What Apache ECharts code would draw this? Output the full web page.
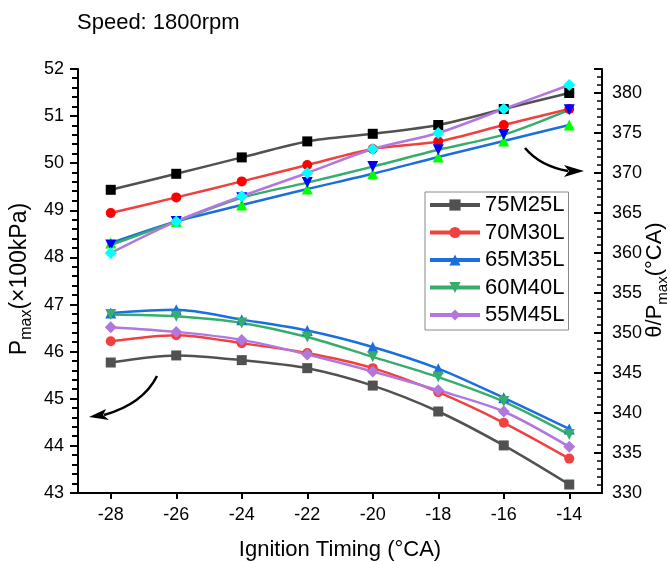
<!DOCTYPE html>
<html>
<head>
<meta charset="utf-8">
<script src="https://cdn.jsdelivr.net/npm/echarts@6/dist/echarts.min.js"></script>
<style>html,body{margin:0;padding:0;background:#fff}#c{width:670px;height:561px}</style>
</head>
<body>
<div id="c"></div>
<script>
// ---- data ----
const ignition = [-28, -26, -24, -22, -20, -18, -16, -14];
const xTicks = [-28, -26, -24, -22, -20, -18, -16, -14];
const names = ['75M25L', '70M30L', '65M35L', '60M40L', '55M45L'];

// Pmax (x100 kPa), left axis
const pmax75 = [45.77, 45.92, 45.82, 45.65, 45.28, 44.73, 44.01, 43.18];
const pmax70 = [46.22, 46.35, 46.18, 45.97, 45.65, 45.14, 44.49, 43.73];
const pmax65 = [46.82, 46.89, 46.68, 46.45, 46.10, 45.64, 45.02, 44.36];
const pmax60 = [46.79, 46.75, 46.61, 46.31, 45.89, 45.46, 44.94, 44.24];
const pmax55 = [46.52, 46.42, 46.25, 45.94, 45.58, 45.18, 44.73, 43.98];

// theta at Pmax (deg CA), right axis
const theta75 = [367.9, 369.9, 371.95, 373.95, 374.9, 376.0, 378.0, 380.0];
const theta70 = [365.0, 366.95, 368.95, 371.0, 373.0, 373.95, 376.0, 378.0];
const theta65 = [361.25, 363.95, 366.0, 368.0, 369.9, 372.0, 374.0, 376.0];
const theta60 = [361.0, 363.95, 366.9, 368.8, 370.8, 372.9, 374.8, 377.9];
const theta55 = [360.0, 363.95, 367.1, 370.0, 373.0, 375.0, 378.0, 381.0];

// left-axis minor tick values (every 0.2 between the unit ticks)
const pmaxMinorTicks = [];
for (let k = 0; k <= 45; k++) if (k % 5 !== 0) pmaxMinorTicks.push(+(43 + k * 0.2).toFixed(1));

// ---- styles ----
const lineColors = ['#515151', '#F14040', '#1A6FDF', '#37AD6B', '#B177DE'];
const symbols = ['rect', 'circle', 'triangle', 'path://M0,0 L10,0 L5,10 Z', 'diamond'];
const symSizes = [10, 10, 11, 11, 12];
const upperMarkColors = ['#000000', '#FF0000', '#00FF00', '#0000FF', '#00FFFF'];

const pmaxSets = [pmax75, pmax70, pmax65, pmax60, pmax55];
const thetaSets = [theta75, theta70, theta65, theta60, theta55];
const pairs = arr => ignition.map((x, i) => [x, arr[i]]);

const series = [];
thetaSets.forEach((arr, i) => {
  series.push({
    name: names[i] + ' θ', type: 'line', yAxisIndex: 1, smooth: 0.3,
    data: pairs(arr), symbol: symbols[i], symbolSize: symSizes[i],
    lineStyle: { color: lineColors[i], width: 2.5 },
    itemStyle: { color: upperMarkColors[i], borderWidth: 0 },
    z: 3
  });
});
pmaxSets.forEach((arr, i) => {
  series.push({
    name: names[i], type: 'line', yAxisIndex: 0, smooth: 0.3,
    data: pairs(arr), symbol: symbols[i], symbolSize: symSizes[i],
    lineStyle: { color: lineColors[i], width: 2.5 },
    itemStyle: { color: lineColors[i], borderWidth: 0 },
    z: 4
  });
});

const FONT = 'Liberation Sans, Arial, sans-serif';
const axisLineStyle = { color: '#000', width: 2 };
const GRID = { left: 78, right: 68, top: 69, bottom: 68 };

const chart = echarts.init(document.getElementById('c'), null, { renderer: 'canvas' });
chart.setOption({
  animation: false,
  backgroundColor: '#fff',
  textStyle: { fontFamily: FONT },
  title: {
    text: 'Speed: 1800rpm', left: 72, top: 7,
    textStyle: { fontFamily: FONT, fontSize: 22, fontWeight: 'normal', color: '#000' }
  },
  grid: { left: GRID.left, right: GRID.right, top: GRID.top, bottom: GRID.bottom, containLabel: false, outerBoundsMode: 'none' },
  legend: {
    data: names, orient: 'vertical', left: 425, top: 192,
    itemWidth: 50, itemHeight: 14, itemGap: 5.5,
    padding: [2, 4, 4, 3],
    borderColor: '#8a8a8a', borderWidth: 1, backgroundColor: '#fff',
    lineStyle: { width: 4 },
    textStyle: { fontFamily: FONT, fontSize: 22, color: '#000', lineHeight: 22 }
  },
  xAxis: {
    type: 'value', min: -29, max: -13,
    axisLine: { onZero: false, lineStyle: axisLineStyle },
    axisTick: { show: true, length: 6, lineStyle: { width: 2, color: '#000' }, customValues: xTicks },
    axisLabel: { customValues: xTicks, fontFamily: FONT, fontSize: 18, color: '#000', margin: 13 },
    splitLine: { show: false },
    name: 'Ignition Timing (°CA)', nameLocation: 'middle', nameGap: 46,
    nameTextStyle: { fontFamily: FONT, fontSize: 22, color: '#000' }
  },
  yAxis: [
    {
      type: 'value', min: 43, max: 52, interval: 1, position: 'left', offset: 0,
      axisLine: { show: true, onZero: false, lineStyle: axisLineStyle },
      axisTick: { show: true, length: 8, inside: false, lineStyle: { width: 2, color: '#000' } },
      axisLabel: { fontFamily: FONT, fontSize: 18, color: '#000', margin: 14 },
      splitLine: { show: false }
    },
    {
      type: 'value', min: 330, max: 383, interval: 5, position: 'right', offset: 0,
      axisLine: { show: true, onZero: false, lineStyle: axisLineStyle },
      axisTick: { show: true, length: 8, inside: true, lineStyle: { width: 2, color: '#000' } },
      minorTick: { show: true, splitNumber: 5, length: 5, lineStyle: { width: 1.5, color: '#000' } },
      axisLabel: {
        fontFamily: FONT, fontSize: 18, color: '#000', margin: 10,
        formatter: v => (v % 5 === 0 ? String(v) : '')
      },
      splitLine: { show: false }
    }
  ],
  series: series
});

// annotations + left minor ticks
const graphics = [
  {
    type: 'text', x: 20, y: 279, rotation: Math.PI / 2,
    style: {
      text: '{a|P}{b|max}{a|(×100kPa)}', align: 'center', verticalAlign: 'middle',
      rich: {
        a: { fontFamily: FONT, fontSize: 23, fill: '#000', lineHeight: 30, verticalAlign: 'middle' },
        b: { fontFamily: FONT, fontSize: 16, fill: '#000', lineHeight: 16, verticalAlign: 'bottom' }
      }
    }
  },
  {
    type: 'text', x: 655, y: 280, rotation: Math.PI / 2,
    style: {
      text: '{a|θ/P}{b|max}{a|(°CA)}', align: 'center', verticalAlign: 'middle',
      rich: {
        a: { fontFamily: FONT, fontSize: 22, fill: '#000', lineHeight: 30, verticalAlign: 'middle' },
        b: { fontFamily: FONT, fontSize: 15, fill: '#000', lineHeight: 16, verticalAlign: 'bottom' }
      }
    }
  },
  {
    type: 'bezierCurve', z: 10,
    shape: { x1: 525, y1: 148, cpx1: 540, cpy1: 166, x2: 568, y2: 171 },
    style: { stroke: '#000', lineWidth: 2.5, fill: null }
  },
  {
    type: 'polygon', z: 10,
    shape: { points: [[584, 171], [564, 165], [569, 171], [564, 177]] },
    style: { fill: '#000' }
  },
  {
    type: 'bezierCurve', z: 10,
    shape: { x1: 157, y1: 376, cpx1: 143, cpy1: 404, x2: 104, y2: 415 },
    style: { stroke: '#000', lineWidth: 2.5, fill: null }
  },
  {
    type: 'polygon', z: 10,
    shape: { points: [[89, 417], [106, 409], [103, 415], [109, 420]] },
    style: { fill: '#000' }
  }
];
const plotH = 561 - GRID.top - GRID.bottom;
pmaxMinorTicks.forEach(v => {
  let py = chart.convertToPixel({ yAxisIndex: 0 }, v);
  if (typeof py !== 'number' || !isFinite(py)) py = GRID.top + (52 - v) / 9 * plotH;
  graphics.push({
    type: 'rect', z: 50, silent: true,
    shape: { x: GRID.left - 6, y: Math.round(py) - 1, width: 6, height: 2 },
    style: { fill: '#000', stroke: null }
  });
});
chart.setOption({ graphic: { elements: graphics } });
</script>
</body>
</html>
